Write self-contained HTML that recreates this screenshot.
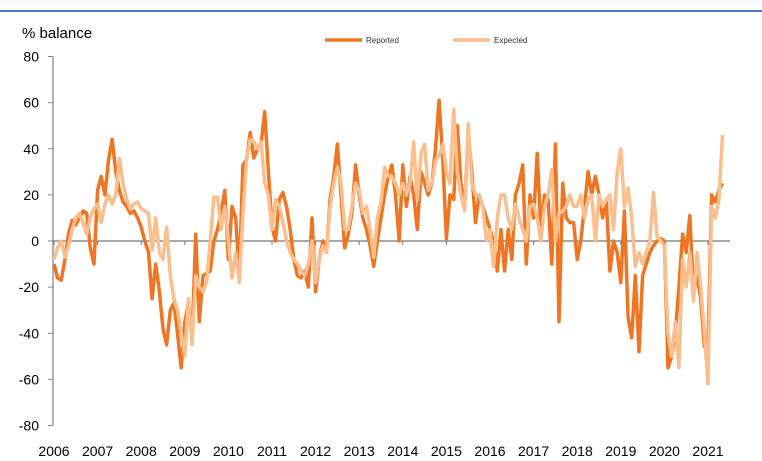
<!DOCTYPE html>
<html><head><meta charset="utf-8"><style>
body{margin:0;background:#fff;}
svg{display:block;font-family:"Liberation Sans",sans-serif;}
</style></head><body>
<svg id="chart" width="762" height="461">
<line x1="0" y1="11" x2="762" y2="11" stroke="#4a7ebb" stroke-width="2"/>
<text x="22" y="38" font-size="15" fill="#000">% balance</text>
<g>
<g>
<line x1="325" y1="40" x2="362" y2="40" stroke="#f07522" stroke-width="3.5"/>
<text x="366" y="43" font-size="8" fill="#333">Reported</text></g>
<g>
<line x1="453" y1="40" x2="490" y2="40" stroke="#fbbf8e" stroke-width="3.5"/>
<text x="494" y="43" font-size="8" fill="#333">Expected</text></g>
</g>
<g id="axes"></g>
<g id="series"></g>
</svg>
<script>
const yTicks=[80,60,40,20,0,-20,-40,-60,-80];
const years=[2006,2007,2008,2009,2010,2011,2012,2013,2014,2015,2016,2017,2018,2019,2020,2021];
const reported=[
-10,-16,-17,-8,3,9,7,10,13,12,-3,-10,
22,28,20,35,44,30,22,17,15,12,13,10,
6,0,-5,-25,-10,-22,-38,-45,-30,-27,-40,-55,
-35,-27,-42,3,-35,-15,-14,-13,0,5,12,22,
-8,15,10,-15,33,35,47,36,40,42,56,30,
6,0,18,21,15,5,-8,-15,-16,-13,-20,10,
-22,-8,0,-5,18,28,42,20,-3,3,12,33,
20,10,5,-2,-11,0,10,20,28,33,20,0,
33,15,28,20,5,30,25,20,25,40,61,35,
1,20,18,50,25,15,47,30,8,20,15,10,
5,0,-13,5,-13,5,-8,20,25,33,-10,20,
10,38,5,20,18,-10,42,-35,25,10,8,8,
-8,0,15,30,20,28,20,10,18,-13,0,-5,
-18,13,-33,-42,-15,-48,-15,-10,-5,-2,0,1,
0,-55,-50,-40,-20,3,-5,11,-22,-15,-25,-46,
-45,20,17,22,25];
const expected=[
-8,-3,0,-7,-2,5,10,12,8,3,10,14,
16,8,16,20,16,20,36,25,18,14,16,17,
14,13,12,-4,10,-5,-8,6,-15,-25,-30,-40,
-50,-25,-45,-15,-20,-22,-18,0,19,19,5,15,
0,-16,-5,-18,12,35,44,43,40,43,25,20,
5,18,15,8,0,-5,-8,-10,-13,-15,-10,0,
-18,-8,-2,-5,15,25,32,25,5,5,15,25,
22,12,15,5,-7,10,17,32,28,28,25,20,
25,20,25,43,18,38,42,22,25,35,37,42,
30,25,57,30,20,13,51,25,20,20,15,0,
5,-11,10,20,20,10,5,16,10,5,0,15,
16,10,0,15,20,31,0,12,13,15,20,15,
15,20,10,18,20,0,20,15,18,20,5,30,
40,15,23,10,-11,-5,-10,-5,0,21,2,0,
-2,-40,-50,-35,-55,-8,-20,-5,-26,-5,-20,-40,
-62,15,10,18,46];
const SVGNS="http://www.w3.org/2000/svg";
const x0=54, yearW=43.6, y0=241, perUnit=369/160;
function xM(i){return x0+i*yearW/12;}
function yV(v){return y0-v*perUnit;}
const axes=document.getElementById('axes');
function mk(tag,attrs,parent){const e=document.createElementNS(SVGNS,tag);for(const k in attrs)e.setAttribute(k,attrs[k]);parent.appendChild(e);return e;}
const yaxis=mk('line',{x1:53,y1:yV(80),x2:53,y2:yV(-80),stroke:'#888','stroke-width':1.3},axes);


yTicks.forEach(v=>{
 const t=mk('line',{x1:48,x2:53,y1:yV(v),y2:yV(v),stroke:'#888','stroke-width':1},axes);
 
 
 const l=mk('text',{x:39,y:yV(v)+5,'font-size':14,'text-anchor':'end',fill:'#000'},axes);
 l.textContent=v;
 
 
});
const xaxis=mk('line',{x1:53,y1:y0,x2:730,y2:y0,stroke:'#777','stroke-width':1.3},axes);


years.forEach((yr,i)=>{
 const x=xM(i*12);
 const t=mk('line',{x1:x,x2:x,y1:y0,y2:y0+4,stroke:'#777','stroke-width':1},axes);
 
 
 const l=mk('text',{x:x,y:456,'font-size':14,'text-anchor':'middle',fill:'#000'},axes);
 l.textContent=yr;
 
 
});
const series=document.getElementById('series');
function path(arr){return arr.map((v,i)=>(i?'L':'M')+xM(i).toFixed(1)+' '+yV(v).toFixed(1)).join(' ');}
const pr=mk('path',{d:path(reported),fill:'none',stroke:'#f07522','stroke-width':3.5,'stroke-linejoin':'round'},series);


const pe=mk('path',{d:path(expected),fill:'none',stroke:'#fbbf8e','stroke-width':3.5,'stroke-linejoin':'round'},series);


</script>
</body></html>
